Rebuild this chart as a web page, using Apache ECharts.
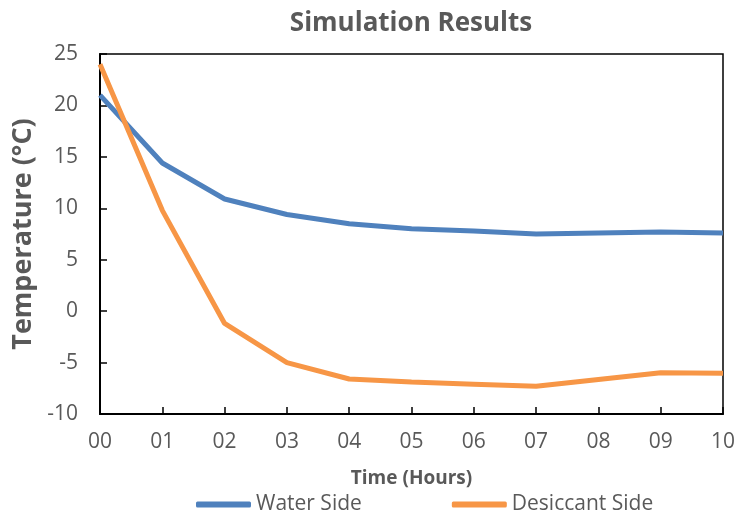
<!DOCTYPE html>
<html>
<head>
<meta charset="utf-8">
<script src="https://cdn.jsdelivr.net/npm/echarts@6/dist/echarts.min.js"></script>
<style>html,body{margin:0;padding:0;background:#fff}#c{width:739px;height:518px}</style>
</head>
<body>
<div id="c"></div>
<script>
// Hours since start
const hours = ['00','01','02','03','04','05','06','07','08','09','10'];
// Temperatures in °C
const waterSide = [21.0, 14.4, 10.9, 9.4, 8.5, 8.0, 7.8, 7.5, 7.6, 7.7, 7.6];
const desiccantSide = [24.0, 9.8, -1.2, -5.0, -6.6, -6.9, -7.1, -7.3, -6.65, -6.0, -6.05];

const grey = '#595959';
const font = '"Open Sans", sans-serif';

const chart = echarts.init(document.getElementById('c'));
chart.setOption({
  animation: false,
  title: {
    text: 'Simulation Results',
    left: 406, top: 6, textAlign: 'center',
    textStyle: { color: grey, fontFamily: font, fontSize: 26, fontWeight: 'bold' }
  },
  grid: {
    left: 100, right: 16, top: 54, bottom: 104,
    outerBoundsMode: 'none',
    show: true, borderColor: '#000', borderWidth: 1.5
  },
  legend: {
    top: 494, left: 196, padding: 0,
    itemWidth: 55, itemHeight: 6, itemGap: 90,
    icon: 'roundRect',
    textStyle: { color: grey, fontFamily: font, fontSize: 21, padding: [0, 0, 0, 0] },
    data: ['Water Side', 'Desiccant Side']
  },
  xAxis: {
    type: 'category', data: hours, boundaryGap: false,
    name: 'Time (Hours)', nameLocation: 'middle', nameGap: 55,
    nameTextStyle: { color: grey, fontFamily: font, fontSize: 19, fontWeight: 'bold' },
    axisLine: { onZero: false, lineStyle: { color: '#000', width: 2 } },
    axisTick: { inside: true, length: 7, lineStyle: { color: '#000', width: 1.5 } },
    axisLabel: { color: grey, fontFamily: font, fontSize: 21, margin: 18 }
  },
  yAxis: {
    type: 'value', min: -10, max: 25, interval: 5,
    name: 'Temperature (°C)', nameLocation: 'middle', nameGap: 53,
    nameTextStyle: { color: grey, fontFamily: font, fontSize: 27, fontWeight: 'bold' },
    axisLine: { show: true, lineStyle: { color: '#000', width: 2 } },
    axisTick: { show: true, inside: true, length: 7, lineStyle: { color: '#000', width: 1.5 } },
    axisLabel: { color: grey, fontFamily: font, fontSize: 21, margin: 22 },
    splitLine: { show: false }
  },
  series: [
    {
      name: 'Water Side', type: 'line', data: waterSide,
      showSymbol: false, symbol: 'none',
      lineStyle: { color: '#4f81bd', width: 5 }, itemStyle: { color: '#4f81bd' }
    },
    {
      name: 'Desiccant Side', type: 'line', data: desiccantSide,
      showSymbol: false, symbol: 'none',
      lineStyle: { color: '#f79646', width: 5 }, itemStyle: { color: '#f79646' }
    }
  ]
});
</script>
</body>
</html>
